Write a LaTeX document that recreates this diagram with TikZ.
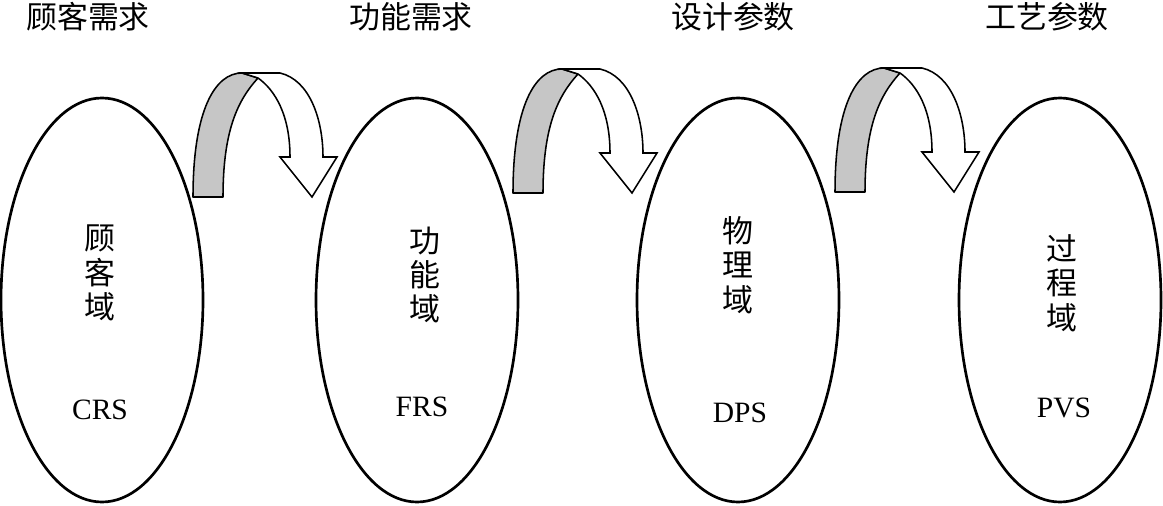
\documentclass[tikz,border=0pt]{standalone}
\usepackage{fontspec}
\setmainfont{Liberation Serif}
\newfontfamily\cjk{Noto Sans CJK SC}
\usetikzlibrary{shapes.geometric}

\begin{document}
\begin{tikzpicture}[
	domainbox/.style={draw, ellipse, line width=1.9pt, minimum width=5.05cm, minimum height=10.1cm, inner sep=0pt},
	heading/.style={font=\cjk\fontsize{22}{26}\selectfont},
	vname/.style={font=\cjk\fontsize{22}{24.5}\selectfont, align=center},
	abbr/.style={font=\fontsize{21}{24}\selectfont},
	backside/.style={draw, line width=1.1pt, fill=gray!45, line join=round},
	frontside/.style={draw, line width=1.1pt, fill=white}]
	\useasboundingbox (0,0) rectangle (29.075,-12.65);

	% the four domains
	\node[domainbox] (crs) at (2.55,-7.5) {};
	\node[domainbox] (frs) at (10.425,-7.5) {};
	\node[domainbox] (dps) at (18.45,-7.5) {};
	\node[domainbox] (pvs) at (26.5,-7.5) {};

	% headings
	\node[heading] (crshead) at (2.2,-0.425) {顾客需求};
	\node[heading] (frshead) at (10.275,-0.425) {功能需求};
	\node[heading] (dpshead) at (18.325,-0.425) {设计参数};
	\node[heading] (pvshead) at (26.175,-0.425) {工艺参数};

	% names inside
	\node[vname] (crsname) at (2.5,-6.825) {顾\\客\\域};
	\node[vname] (frsname) at (10.625,-6.875) {功\\能\\域};
	\node[vname] (dpsname) at (18.45,-6.625) {物\\理\\域};
	\node[vname] (pvsname) at (26.55,-7.075) {过\\程\\域};
	\node[abbr] (crsabbr) at (2.5,-10.25) {CRS};
	\node[abbr] (frsabbr) at (10.55,-10.175) {FRS};
	\node[abbr] (dpsabbr) at (18.5,-10.325) {DPS};
	\node[abbr] (pvsabbr) at (26.6,-10.2) {PVS};

	% turning arrows
	\foreach \x/\y in {4.825/-4.925, 12.825/-4.825, 20.875/-4.8} {
		\begin{scope}[shift={(\x,\y)}]
			\draw[backside] (0,0) .. controls (0,2.175) and (0.55,3.1) .. (1.225,3.1)
				-- (1.625,2.975) .. controls (1.125,2.425) and (0.75,1.675) .. (0.75,0) -- cycle;
			\draw[frontside] (1.225,3.1) -- (2.175,3.1)
				.. controls (2.925,2.925) and (3.25,1.925) .. (3.25,1.0)
				-- (3.6,1.0) -- (2.975,0) -- (2.175,1.0) -- (2.425,1.0)
				.. controls (2.425,2.05) and (2.05,2.675) .. (1.625,2.975) -- cycle;
		\end{scope}
	}
\end{tikzpicture}
\end{document}
